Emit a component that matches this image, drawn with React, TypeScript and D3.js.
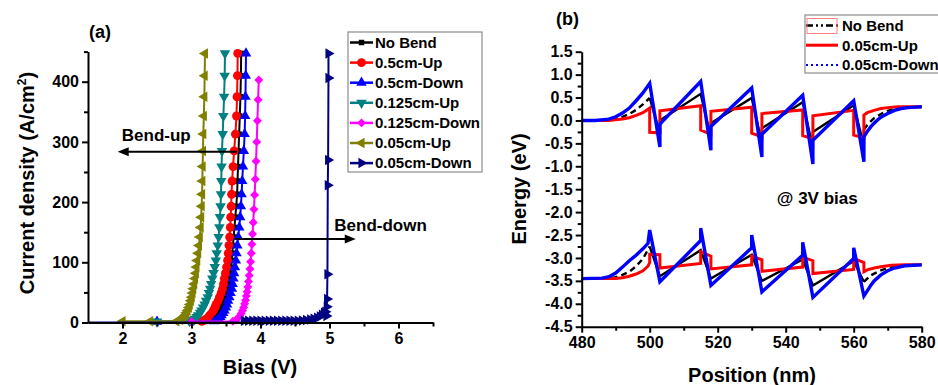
import * as d3 from 'd3';
import React, { useEffect, useRef } from 'react';

const FONT = '"Liberation Sans", Arial, Helvetica, sans-serif';

// ---------- panel (a): current density vs bias ----------
const legendA = ['No Bend', '0.5cm-Up', '0.5cm-Down', '0.125cm-Up', '0.125cm-Down', '0.05cm-Up', '0.05cm-Down'];

const noBendV = [3.0, 3.25, 3.285, 3.31, 3.338, 3.355, 3.385, 3.4, 3.422, 3.44, 3.466, 3.484, 3.505, 3.52, 3.533, 3.546, 3.558, 3.57, 3.582, 3.591, 3.6, 3.611, 3.622, 3.635, 3.648, 3.661, 3.667, 3.674, 3.682, 3.69, 3.7, 3.709, 3.716, 3.72];
const noBendJ = [1.5, 2, 4, 6, 9, 12, 16, 20, 25, 30, 36, 42, 49, 56, 64, 73, 82, 92, 103, 115, 128, 142, 158, 175, 193, 213, 235, 259, 285, 313, 343, 375, 410, 447];

const up05V = [3.0, 3.15, 3.19, 3.215, 3.245, 3.265, 3.296, 3.318, 3.34, 3.357, 3.385, 3.405, 3.43, 3.45, 3.464, 3.476, 3.492, 3.508, 3.523, 3.533, 3.543, 3.553, 3.562, 3.568, 3.575, 3.581, 3.588, 3.602, 3.618, 3.636, 3.652, 3.66, 3.666, 3.67];
const up05J = [1.5, 2, 4, 6, 9, 12, 16, 20, 25, 30, 36, 42, 49, 56, 64, 73, 82, 92, 103, 115, 128, 142, 158, 175, 193, 213, 235, 259, 285, 313, 343, 375, 410, 447];

const down05V = [2.5, 3.33, 3.375, 3.395, 3.417, 3.436, 3.459, 3.478, 3.498, 3.515, 3.53, 3.548, 3.566, 3.585, 3.596, 3.607, 3.618, 3.63, 3.643, 3.652, 3.664, 3.677, 3.692, 3.705, 3.716, 3.726, 3.735, 3.746, 3.758, 3.77, 3.777, 3.782, 3.786, 3.79];
const down05J = [1.5, 2, 4, 6, 9, 12, 16, 20, 25, 30, 36, 42, 49, 56, 64, 73, 82, 92, 103, 115, 128, 142, 158, 175, 193, 213, 235, 259, 285, 313, 343, 375, 410, 447];

const up0125V = [2.5, 2.97, 3.025, 3.05, 3.075, 3.096, 3.124, 3.145, 3.168, 3.19, 3.212, 3.236, 3.253, 3.27, 3.285, 3.302, 3.32, 3.337, 3.353, 3.366, 3.38, 3.393, 3.404, 3.413, 3.421, 3.427, 3.431, 3.436, 3.442, 3.452, 3.462, 3.472, 3.481, 3.485];
const up0125J = [1.5, 2, 4, 6, 9, 12, 16, 20, 25, 30, 36, 42, 49, 56, 64, 73, 82, 92, 103, 115, 128, 142, 158, 175, 193, 213, 235, 259, 285, 313, 343, 375, 410, 447];

const down0125V = [3.0, 3.6, 3.645, 3.675, 3.7, 3.72, 3.74, 3.756, 3.77, 3.783, 3.795, 3.806, 3.816, 3.826, 3.836, 3.846, 3.856, 3.866, 3.875, 3.885, 3.895, 3.905, 3.915, 3.925, 3.935, 3.945, 3.955, 3.965, 3.975];
const down0125J = [1.5, 2, 4, 7, 11, 15, 20, 25, 31, 37, 44, 51, 59, 68, 78, 89, 101, 115, 130, 147, 166, 188, 212, 238, 268, 300, 335, 370, 403];

const up005V = [2.0, 2.4, 2.78, 2.835, 2.86, 2.883, 2.904, 2.926, 2.942, 2.962, 2.975, 2.99, 3.003, 3.015, 3.026, 3.039, 3.051, 3.063, 3.072, 3.083, 3.096, 3.108, 3.12, 3.133, 3.14, 3.147, 3.153, 3.157, 3.161, 3.166, 3.171, 3.179, 3.186, 3.191, 3.195];
const up005J = [2, 2, 2, 4, 6, 9, 12, 16, 20, 25, 30, 36, 42, 49, 56, 64, 73, 82, 92, 103, 115, 128, 142, 158, 175, 193, 213, 235, 259, 285, 313, 343, 375, 410, 447];

const down005V = [1.5, 3.74, 3.76, 3.82, 3.88, 3.94, 4.0, 4.06, 4.12, 4.18, 4.24, 4.3, 4.36, 4.42, 4.48, 4.54, 4.6, 4.66, 4.72, 4.77, 4.82, 4.86, 4.89, 4.92, 4.94, 4.955, 4.96, 4.965, 4.97, 4.975, 4.98, 4.985, 4.985];
const down005J = [0, 0, 3, 3, 3, 3, 3, 3, 3, 3, 3, 3, 3, 3, 3, 3, 3.5, 4, 5, 6, 8, 10, 13, 16, 18, 11, 26, 39, 80, 228, 270, 406, 447];

const biasTicks = [2, 3, 4, 5, 6];
const biasMinor = [2.5, 3.5, 4.5, 5.5, 6.5];
const currentTicks = [0, 100, 200, 300, 400];
const currentMinor = [50, 150, 250, 350, 450];

// ---------- panel (b): band diagram at 3 V ----------
const legendB = ['No Bend', '0.05cm-Up', '0.05cm-Down'];

const cbNoBendX = [480, 486, 490, 492, 494, 496, 498, 500, 503, 503, 515, 518, 518, 530, 533, 533, 545, 548, 548, 560, 563, 563, 564, 565, 566, 568, 570, 572, 575, 580];
const cbNoBendE = [0, 0, 0.04, 0.08, 0.14, 0.23, 0.35, 0.49, -0.28, 0.0, 0.58, -0.38, -0.06, 0.49, -0.5, -0.17, 0.4, -0.6, -0.25, 0.33, -0.55, -0.2, -0.1, -0.02, 0.05, 0.14, 0.21, 0.25, 0.28, 0.3];

const cbUpX = [480, 488, 492, 494, 496, 498, 500, 500, 503, 503, 515, 515, 518, 518, 530, 530, 533, 533, 545, 545, 548, 548, 560, 560, 563, 563, 564, 566, 568, 570, 573, 580];
const cbUpE = [0, 0, 0.03, 0.06, 0.11, 0.17, 0.27, -0.26, -0.27, 0.21, 0.32, -0.21, -0.3, 0.2, 0.29, -0.28, -0.36, 0.15, 0.23, -0.33, -0.4, 0.1, 0.22, -0.32, -0.38, 0.12, 0.17, 0.22, 0.26, 0.28, 0.3, 0.3];

const cbDownX = [480, 484, 488, 490, 492, 494, 496, 498, 500, 503, 503, 515, 518, 518, 530, 533, 533, 545, 548, 548, 560, 563, 563, 564, 565, 566, 567, 568, 570, 572, 574, 576, 580];
const cbDownE = [0, 0, 0.03, 0.08, 0.16, 0.27, 0.43, 0.6, 0.81, -0.58, -0.08, 0.85, -0.65, -0.13, 0.71, -0.8, -0.3, 0.55, -0.95, -0.43, 0.43, -0.9, -0.36, -0.24, -0.14, -0.06, 0.01, 0.07, 0.15, 0.22, 0.26, 0.28, 0.3];

const vbNoBendX = [480, 488, 490, 492, 494, 496, 498, 500, 503, 515, 518, 530, 533, 545, 548, 560, 563, 565, 568, 570, 573, 580];
const vbNoBendE = [-3.45, -3.45, -3.42, -3.37, -3.3, -3.18, -3.02, -2.75, -3.4, -2.83, -3.45, -2.93, -3.5, -3.03, -3.6, -3.07, -3.52, -3.38, -3.27, -3.22, -3.18, -3.15];

const vbUpX = [480, 490, 492, 494, 496, 498, 499.5, 500, 500, 503, 503, 515, 515, 518, 518, 530, 530, 533, 533, 545, 545, 548, 548, 560, 560, 563, 563, 564, 566, 568, 571, 575, 580];
const vbUpE = [-3.45, -3.45, -3.43, -3.4, -3.35, -3.28, -3.18, -3.1, -2.92, -2.93, -3.22, -3.12, -2.86, -2.96, -3.24, -3.15, -2.96, -3.04, -3.29, -3.2, -2.98, -3.06, -3.34, -3.25, -3.01, -3.1, -3.3, -3.26, -3.22, -3.19, -3.16, -3.15, -3.15];

const vbDownX = [480, 486, 488, 490, 492, 494, 496, 498, 499.5, 500, 503, 515, 515, 518, 530, 530, 533, 545, 545, 548, 560, 560, 563, 564, 565, 566, 568, 570, 572, 575, 580];
const vbDownE = [-3.45, -3.44, -3.41, -3.33, -3.2, -3.06, -2.94, -2.8, -2.68, -2.39, -3.52, -2.62, -2.35, -3.6, -2.78, -2.5, -3.74, -2.94, -2.66, -3.86, -3.01, -2.78, -3.83, -3.72, -3.6, -3.5, -3.37, -3.28, -3.22, -3.17, -3.15];

const energyTicks = [1.5, 1.0, 0.5, 0.0, -0.5, -1.0, -1.5, -2.0, -2.5, -3.0, -3.5, -4.0, -4.5];
const energyMinor = [1.25, 0.75, 0.25, -0.25, -0.75, -1.25, -1.75, -2.25, -2.75, -3.25, -3.75, -4.25];
const positionTicks = [480, 500, 520, 540, 560, 580];
const positionMinor = [490, 510, 530, 550, 570];

type Sel = d3.Selection<any, unknown, null, undefined>;

function styleAxis(g: Sel, size = 16) {
  g.attr('font-family', FONT).attr('font-size', size).attr('font-weight', 'bold');
  g.select('.domain').attr('stroke', '#000').attr('stroke-width', 2);
  g.selectAll('.tick line').attr('stroke', '#000').attr('stroke-width', 2);
  g.selectAll('.tick text').attr('fill', '#000');
}

function markerShape(shape: string) {
  if (shape === 'circle') return { d: d3.symbol(d3.symbolCircle, 62)(), rot: 0 };
  if (shape === 'square') return { d: d3.symbol(d3.symbolSquare, 30)(), rot: 0 };
  if (shape === 'diamond') return { d: d3.symbol(d3.symbolSquare, 40)(), rot: 45 };
  const rot = shape === 'down' ? 180 : shape === 'left' ? -90 : shape === 'right' ? 90 : 0;
  return { d: d3.symbol(d3.symbolTriangle, 48)(), rot };
}

function arrow(g: Sel, x1: number, x2: number, y: number) {
  const dir = x2 > x1 ? 1 : -1;
  g.append('line').attr('x1', x1).attr('x2', x2 - dir * 8).attr('y1', y).attr('y2', y)
    .attr('stroke', '#000').attr('stroke-width', 2);
  g.append('path')
    .attr('d', `M${x2},${y} L${x2 - dir * 11},${y - 4.5} L${x2 - dir * 11},${y + 4.5} Z`)
    .attr('fill', '#000');
}

function drawPanelA(svg: Sel) {
  const x = d3.scaleLinear().domain([1.5, 6.5]).range([88, 433]);
  const y = d3.scaleLinear().domain([0, 450]).range([322.5, 51.6]);
  const g = svg.append('g');

  const series = [
    { name: legendA[0], v: noBendV, j: noBendJ, color: '#000000', shape: 'square' },
    { name: legendA[1], v: up05V, j: up05J, color: '#ff0000', shape: 'circle' },
    { name: legendA[2], v: down05V, j: down05J, color: '#0000ff', shape: 'up' },
    { name: legendA[3], v: up0125V, j: up0125J, color: '#008080', shape: 'down' },
    { name: legendA[4], v: down0125V, j: down0125J, color: '#ff00ff', shape: 'diamond' },
    { name: legendA[5], v: up005V, j: up005J, color: '#808000', shape: 'left' },
    { name: legendA[6], v: down005V, j: down005J, color: '#000080', shape: 'right' },
  ];

  const line = d3.line<[number, number]>().x(d => x(d[0])).y(d => y(d[1]));

  series.forEach(s => {
    const pts = d3.zip(s.v, s.j) as [number, number][];
    g.append('path').attr('d', line(pts)).attr('fill', 'none')
      .attr('stroke', s.color).attr('stroke-width', 2);
    const m = markerShape(s.shape);
    g.selectAll(null)
      .data(pts.filter(p => p[1] > 0))
      .enter()
      .append('path')
      .attr('d', m.d)
      .attr('transform', d => `translate(${x(d[0])},${y(d[1])}) rotate(${m.rot})`)
      .attr('fill', s.color);
  });

  // axes
  const xAxis = g.append('g').attr('transform', `translate(0,${y(0)})`)
    .call(d3.axisBottom(x).tickValues(biasTicks).tickSize(6).tickSizeOuter(0).tickPadding(4).tickFormat(d3.format('d')));
  styleAxis(xAxis);
  const xMinor = g.append('g').attr('transform', `translate(0,${y(0)})`)
    .call(d3.axisBottom(x).tickValues(biasMinor).tickSize(4).tickFormat(() => ''));
  styleAxis(xMinor);
  xMinor.select('.domain').remove();

  const yAxis = g.append('g').attr('transform', `translate(${x(1.5)},0)`)
    .call(d3.axisLeft(y).tickValues(currentTicks).tickSize(6).tickSizeOuter(0).tickPadding(3));
  styleAxis(yAxis);
  const yMinor = g.append('g').attr('transform', `translate(${x(1.5)},0)`)
    .call(d3.axisLeft(y).tickValues(currentMinor).tickSize(4).tickFormat(() => ''));
  styleAxis(yMinor);
  yMinor.select('.domain').remove();

  // titles
  g.append('text').attr('x', 260).attr('y', 374).attr('text-anchor', 'middle')
    .attr('font-family', FONT).attr('font-size', 20).attr('font-weight', 'bold').text('Bias (V)');
  const yt = g.append('text').attr('transform', 'translate(34,183) rotate(-90)').attr('text-anchor', 'middle')
    .attr('font-family', FONT).attr('font-size', 20).attr('font-weight', 'bold');
  yt.append('tspan').text('Current density (A/cm');
  yt.append('tspan').attr('font-size', 12).attr('dy', -8).text('2');
  yt.append('tspan').attr('dy', 8).text(')');
  g.append('text').attr('x', 89).attr('y', 38).attr('font-family', FONT).attr('font-size', 18)
    .attr('font-weight', 'bold').text('(a)');

  // annotations
  g.append('text').attr('x', x(1.99)).attr('y', y(301)).attr('font-family', FONT).attr('font-size', 17)
    .attr('font-weight', 'bold').text('Bend-up');
  arrow(g, x(3.66), x(1.93), y(283.5));
  g.append('text').attr('x', x(5.07)).attr('y', y(152)).attr('font-family', FONT).attr('font-size', 17)
    .attr('font-weight', 'bold').text('Bend-down');
  arrow(g, x(3.63), x(5.38), y(138.5));

  // legend
  const lg = g.append('g');
  lg.append('rect').attr('x', 348).attr('y', 32).attr('width', 134).attr('height', 140)
    .attr('fill', '#fff').attr('stroke', '#8c8c8c').attr('stroke-width', 1.2);
  series.forEach((s, i) => {
    const yy = 42.5 + i * 20.1;
    lg.append('line').attr('x1', 350).attr('x2', 373).attr('y1', yy).attr('y2', yy)
      .attr('stroke', s.color).attr('stroke-width', 2.5);
    const m = markerShape(s.shape);
    lg.append('path').attr('d', m.d).attr('transform', `translate(361.5,${yy}) rotate(${m.rot})`).attr('fill', s.color);
    lg.append('text').attr('x', 375).attr('y', yy + 5.3).attr('font-family', FONT).attr('font-size', 15)
      .attr('font-weight', 'bold').attr('fill', '#000').text(s.name);
  });
}

function drawPanelB(svg: Sel) {
  const x = d3.scaleLinear().domain([480, 580]).range([581.7, 921.7]);
  const y = d3.scaleLinear().domain([-4.5, 1.5]).range([326.7, 51.7]);
  const g = svg.append('g');
  const line = d3.line<[number, number]>().x(d => x(d[0])).y(d => y(d[1]));

  // black: dashed in the smooth ends, solid across the well region
  const drawNoBend = (xs: number[], es: number[]) => {
    const pts = d3.zip(xs, es) as [number, number][];
    const i0 = xs.findIndex(v => v >= 500);
    let i1 = 0;
    xs.forEach((v, i) => { if (v <= 563) i1 = i; });
    [[0, i0, true], [i0, i1, false], [i1, pts.length - 1, true]].forEach(([a, b, dash]) => {
      g.append('path').attr('d', line(pts.slice(a as number, (b as number) + 1))).attr('fill', 'none')
        .attr('stroke', '#000').attr('stroke-width', 2.4)
        .attr('stroke-dasharray', dash ? '6,4' : null);
    });
  };
  const drawSolid = (xs: number[], es: number[], color: string, w: number) => {
    const pts = d3.zip(xs, es) as [number, number][];
    g.append('path').attr('d', line(pts)).attr('fill', 'none').attr('stroke', color)
      .attr('stroke-width', w).attr('stroke-linejoin', 'miter').attr('stroke-miterlimit', 3);
  };

  drawNoBend(cbNoBendX, cbNoBendE);
  drawNoBend(vbNoBendX, vbNoBendE);
  drawSolid(cbUpX, cbUpE, '#ff0000', 3);
  drawSolid(vbUpX, vbUpE, '#ff0000', 3);
  drawSolid(cbDownX, cbDownE, '#0000ff', 3.4);
  drawSolid(vbDownX, vbDownE, '#0000ff', 3.4);

  // axes
  const xAxis = g.append('g').attr('transform', `translate(0,${y(-4.5)})`)
    .call(d3.axisBottom(x).tickValues(positionTicks).tickSize(6).tickSizeOuter(0).tickPadding(4).tickFormat(d3.format('d')));
  styleAxis(xAxis);
  const xMinor = g.append('g').attr('transform', `translate(0,${y(-4.5)})`)
    .call(d3.axisBottom(x).tickValues(positionMinor).tickSize(4).tickFormat(() => ''));
  styleAxis(xMinor);
  xMinor.select('.domain').remove();

  const yAxis = g.append('g').attr('transform', `translate(${x(480)},0)`)
    .call(d3.axisLeft(y).tickValues(energyTicks).tickSize(6).tickSizeOuter(0).tickPadding(3)
      .tickFormat(d => (d as number).toFixed(1)));
  styleAxis(yAxis);
  const yMinor = g.append('g').attr('transform', `translate(${x(480)},0)`)
    .call(d3.axisLeft(y).tickValues(energyMinor).tickSize(4).tickFormat(() => ''));
  styleAxis(yMinor);
  yMinor.select('.domain').remove();

  g.append('text').attr('x', 752).attr('y', 382).attr('text-anchor', 'middle')
    .attr('font-family', FONT).attr('font-size', 20).attr('font-weight', 'bold').text('Position (nm)');
  g.append('text').attr('transform', 'translate(526,189) rotate(-90)').attr('text-anchor', 'middle')
    .attr('font-family', FONT).attr('font-size', 20).attr('font-weight', 'bold').text('Energy (eV)');
  g.append('text').attr('x', 556).attr('y', 25).attr('font-family', FONT).attr('font-size', 18)
    .attr('font-weight', 'bold').text('(b)');
  g.append('text').attr('x', x(537.4)).attr('y', y(-1.82)).attr('font-family', FONT).attr('font-size', 17)
    .attr('font-weight', 'bold').text('@ 3V bias');

  // legend
  const lg = g.append('g');
  lg.append('rect').attr('x', 805).attr('y', 15).attr('width', 140).attr('height', 58)
    .attr('fill', '#fff').attr('stroke', '#8c8c8c').attr('stroke-width', 1.2);
  const styles = [
    { color: '#000', w: 2.5, dash: '7,3,2,3,2,3' },
    { color: '#ff0000', w: 3, dash: null },
    { color: '#0000ff', w: 2, dash: '2,3' },
  ];
  legendB.forEach((name, i) => {
    const yy = 25.5 + i * 19.7;
    lg.append('line').attr('x1', 806).attr('x2', 838).attr('y1', yy).attr('y2', yy)
      .attr('stroke', styles[i].color).attr('stroke-width', styles[i].w)
      .attr('stroke-dasharray', styles[i].dash);
    lg.append('text').attr('x', 842).attr('y', yy + 5.3).attr('font-family', FONT).attr('font-size', 15)
      .attr('font-weight', 'bold').text(name);
  });
  lg.append('rect').attr('x', 807).attr('y', 18.5).attr('width', 30).attr('height', 15)
    .attr('fill', 'none').attr('stroke', '#ff8080').attr('stroke-width', 1);
}

export default function App() {
  const svgRef = useRef<SVGSVGElement>(null);

  useEffect(() => {
    const svg = d3.select(svgRef.current) as unknown as Sel;
    svg.selectAll('*').remove();
    drawPanelA(svg);
    drawPanelB(svg);
  }, []);

  return (
    <svg
      ref={svgRef}
      width={938}
      height={385}
      style={{ position: 'absolute', left: 0, top: 0, background: '#fff' }}
    />
  );
}
